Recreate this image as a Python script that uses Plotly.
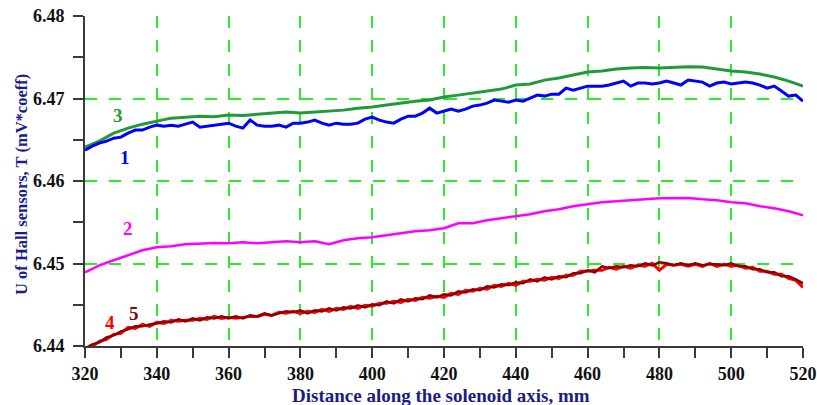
import plotly.graph_objects as go

# ---- data (mm, mV*coeff) ----
x_step2 = list(range(320, 521, 2))
x_step4 = list(range(320, 521, 4))

sensor1_blue = [
    6.46374, 6.46422, 6.46459, 6.46483, 6.46519, 6.46532, 6.46580, 6.46617, 6.46617, 6.46653,
    6.46677, 6.46665, 6.46677, 6.46665, 6.46689, 6.46714, 6.46653, 6.46665, 6.46677, 6.46689,
    6.46701, 6.46665, 6.46641, 6.46738, 6.46677, 6.46665, 6.46665, 6.46677, 6.46653, 6.46701,
    6.46701, 6.46714, 6.46738, 6.46701, 6.46677, 6.46701, 6.46689, 6.46689, 6.46701, 6.46750,
    6.46774, 6.46738, 6.46714, 6.46701, 6.46750, 6.46786, 6.46786, 6.46823, 6.46883, 6.46823,
    6.46847, 6.46871, 6.46847, 6.46871, 6.46908, 6.46920, 6.46944, 6.46981, 6.46968, 6.46956,
    6.46981, 6.46968, 6.47005, 6.47041, 6.47029, 6.47053, 6.47053, 6.47126, 6.47102, 6.47126,
    6.47150, 6.47150, 6.47150, 6.47163, 6.47187, 6.47211, 6.47150, 6.47187, 6.47187, 6.47175,
    6.47187, 6.47211, 6.47187, 6.47163, 6.47223, 6.47211, 6.47199, 6.47150, 6.47187, 6.47199,
    6.47175, 6.47187, 6.47199, 6.47187, 6.47163, 6.47126, 6.47150, 6.47090, 6.47029, 6.47041,
    6.46968,
]

sensor3_green = [
    6.46410, 6.46483, 6.46580, 6.46641, 6.46689, 6.46726, 6.46762, 6.46774, 6.46786, 6.46780,
    6.46799, 6.46795, 6.46811, 6.46823, 6.46835, 6.46823, 6.46835, 6.46847, 6.46859, 6.46883,
    6.46896, 6.46920, 6.46944, 6.46968, 6.46981, 6.47017, 6.47041, 6.47066, 6.47090, 6.47114,
    6.47163, 6.47175, 6.47223, 6.47248, 6.47284, 6.47320, 6.47333, 6.47357, 6.47369, 6.47375,
    6.47369, 6.47381, 6.47385, 6.47381, 6.47357, 6.47333, 6.47320, 6.47296, 6.47260, 6.47211,
    6.47150,
]

sensor2_magenta = [
    6.44893, 6.44978, 6.45039, 6.45100, 6.45160, 6.45197, 6.45209, 6.45233, 6.45245, 6.45250,
    6.45245, 6.45257, 6.45245, 6.45257, 6.45269, 6.45257, 6.45269, 6.45233, 6.45282, 6.45306,
    6.45318, 6.45342, 6.45367, 6.45391, 6.45403, 6.45427, 6.45488, 6.45488, 6.45524, 6.45549,
    6.45573, 6.45597, 6.45633, 6.45658, 6.45694, 6.45718, 6.45743, 6.45755, 6.45767, 6.45779,
    6.45791, 6.45791, 6.45795, 6.45779, 6.45767, 6.45743, 6.45731, 6.45694, 6.45670, 6.45633,
    6.45585,
]

sensor4_red = [
    6.43959, 6.43995, 6.44056, 6.44080, 6.44141, 6.44153, 6.44226, 6.44214, 6.44262, 6.44238,
    6.44286, 6.44274, 6.44311, 6.44299, 6.44311, 6.44311, 6.44335, 6.44323, 6.44359, 6.44335,
    6.44347, 6.44335, 6.44347, 6.44359, 6.44359, 6.44384, 6.44371, 6.44408, 6.44396, 6.44420,
    6.44396, 6.44420, 6.44408, 6.44444, 6.44420, 6.44456, 6.44444, 6.44481, 6.44456, 6.44493,
    6.44481, 6.44517, 6.44517, 6.44541, 6.44529, 6.44566, 6.44553, 6.44590, 6.44578, 6.44602,
    6.44590, 6.44638, 6.44626, 6.44675, 6.44663, 6.44699, 6.44687, 6.44736, 6.44723, 6.44760,
    6.44736, 6.44784, 6.44784, 6.44808, 6.44796, 6.44833, 6.44820, 6.44857, 6.44857, 6.44905,
    6.44905, 6.44917, 6.44917, 6.44954, 6.44930, 6.44966, 6.44942, 6.44978, 6.44966, 6.45002,
    6.44917, 6.44990, 6.44978, 6.44990, 6.44966, 6.44990, 6.44966, 6.45002, 6.44966, 6.44990,
    6.44966, 6.44978, 6.44942, 6.44954, 6.44905, 6.44905, 6.44869, 6.44869, 6.44820, 6.44796,
    6.44711,
]

sensor5_darkred = [
    6.43971, 6.44019, 6.44044, 6.44104, 6.44129, 6.44177, 6.44201, 6.44238, 6.44238, 6.44262,
    6.44274, 6.44299, 6.44286, 6.44323, 6.44299, 6.44335, 6.44311, 6.44347, 6.44335, 6.44359,
    6.44335, 6.44359, 6.44335, 6.44371, 6.44359, 6.44396, 6.44371, 6.44396, 6.44420, 6.44408,
    6.44432, 6.44396, 6.44432, 6.44420, 6.44456, 6.44432, 6.44468, 6.44456, 6.44493, 6.44468,
    6.44505, 6.44493, 6.44541, 6.44517, 6.44566, 6.44541, 6.44578, 6.44566, 6.44614, 6.44590,
    6.44626, 6.44614, 6.44663, 6.44650, 6.44687, 6.44675, 6.44723, 6.44711, 6.44748, 6.44736,
    6.44772, 6.44760, 6.44808, 6.44784, 6.44833, 6.44808, 6.44845, 6.44833, 6.44881, 6.44881,
    6.44917, 6.44893, 6.44966, 6.44942, 6.44966, 6.44954, 6.44978, 6.44966, 6.45002, 6.44978,
    6.45015, 6.45002, 6.44978, 6.45002, 6.44978, 6.45002, 6.44978, 6.44990, 6.44990, 6.44978,
    6.45002, 6.44966, 6.44966, 6.44930, 6.44930, 6.44893, 6.44893, 6.44845, 6.44845, 6.44808,
    6.44760,
]

label_texts = ["3", "1", "2", "4", "5"]
label_x = [329.2, 331.1, 332.0, 327.0, 333.6]
label_y = [6.4680, 6.4628, 6.4542, 6.4429, 6.4440]
label_colors = ["#1f9a3a", "#0000ff", "#ff00ff", "#ff0000", "#7a0a1a"]

x_title = "Distance along the solenoid axis, mm"
y_title = "U of Hall sensors, T (mV*coeff)"

# ---- figure ----
fig = go.Figure()
fig.add_trace(go.Scatter(x=x_step4, y=sensor2_magenta, mode="lines",
                         line=dict(color="#ff00ff", width=2.5)))
fig.add_trace(go.Scatter(x=x_step4, y=sensor3_green, mode="lines",
                         line=dict(color="#1f9a3a", width=3)))
fig.add_trace(go.Scatter(x=x_step2, y=sensor1_blue, mode="lines",
                         line=dict(color="#0000ff", width=3)))
fig.add_trace(go.Scatter(x=x_step2, y=sensor4_red, mode="lines",
                         line=dict(color="#ff0000", width=3)))
fig.add_trace(go.Scatter(x=x_step2, y=sensor5_darkred, mode="lines",
                         line=dict(color="#8b0000", width=2.5)))

for t, xx, yy, c in zip(label_texts, label_x, label_y, label_colors):
    fig.add_annotation(x=xx, y=yy, text=t, showarrow=False,
                       font=dict(family="Liberation Serif", size=19, color=c, weight="bold"))

# axis titles placed in pixel-equivalent paper coordinates
PLOT_L, PLOT_R, PLOT_T, PLOT_B = 85, 803, 16, 346
fig.add_annotation(text=x_title, xref="paper", yref="paper",
                   x=(441 - PLOT_L) / (PLOT_R - PLOT_L),
                   y=-(395 - PLOT_B) / (PLOT_B - PLOT_T),
                   showarrow=False, xanchor="center", yanchor="middle",
                   font=dict(family="Liberation Serif", size=19, color="#1c1c86", weight="bold"))
fig.add_annotation(text=y_title, xref="paper", yref="paper",
                   x=-(PLOT_L - 21) / (PLOT_R - PLOT_L),
                   y=(PLOT_B - 185) / (PLOT_B - PLOT_T), textangle=-90,
                   showarrow=False, xanchor="center", yanchor="middle",
                   font=dict(family="Liberation Serif", size=16.5, color="#1c1c86", weight="bold"))

grid = dict(showgrid=True, gridcolor="#2ee82e", gridwidth=2, griddash="12px,12px")
axis_common = dict(
    showline=True, linecolor="#3a3a3a", linewidth=2, automargin=False,
    ticks="outside", ticklen=10, tickwidth=2, tickcolor="#3a3a3a",
    tickfont=dict(family="Liberation Serif", size=18, color="#111111", weight="bold"),
    zeroline=False,
    **grid,
)

fig.update_xaxes(range=[320, 520], tick0=320, dtick=20,
                 minor=dict(dtick=10, ticks="outside", ticklen=10, tickwidth=2,
                            tickcolor="#3a3a3a", showgrid=False),
                 **axis_common)
fig.update_yaxes(range=[6.44, 6.48], tick0=6.44, dtick=0.01, tickformat=".2f",
                 ticklabelstandoff=5,
                 minor=dict(dtick=0.005, ticks="outside", ticklen=10, tickwidth=2,
                            tickcolor="#3a3a3a", showgrid=False),
                 **axis_common)

fig.update_layout(
    width=817, height=405,
    margin=dict(l=PLOT_L, r=817 - PLOT_R, t=PLOT_T, b=405 - PLOT_B),
    plot_bgcolor="white", paper_bgcolor="white",
    showlegend=False,
)

fig.write_html("out.html", config={"displayModeBar": False},
               post_script="document.body.style.margin='0';document.body.style.overflow='hidden';")
